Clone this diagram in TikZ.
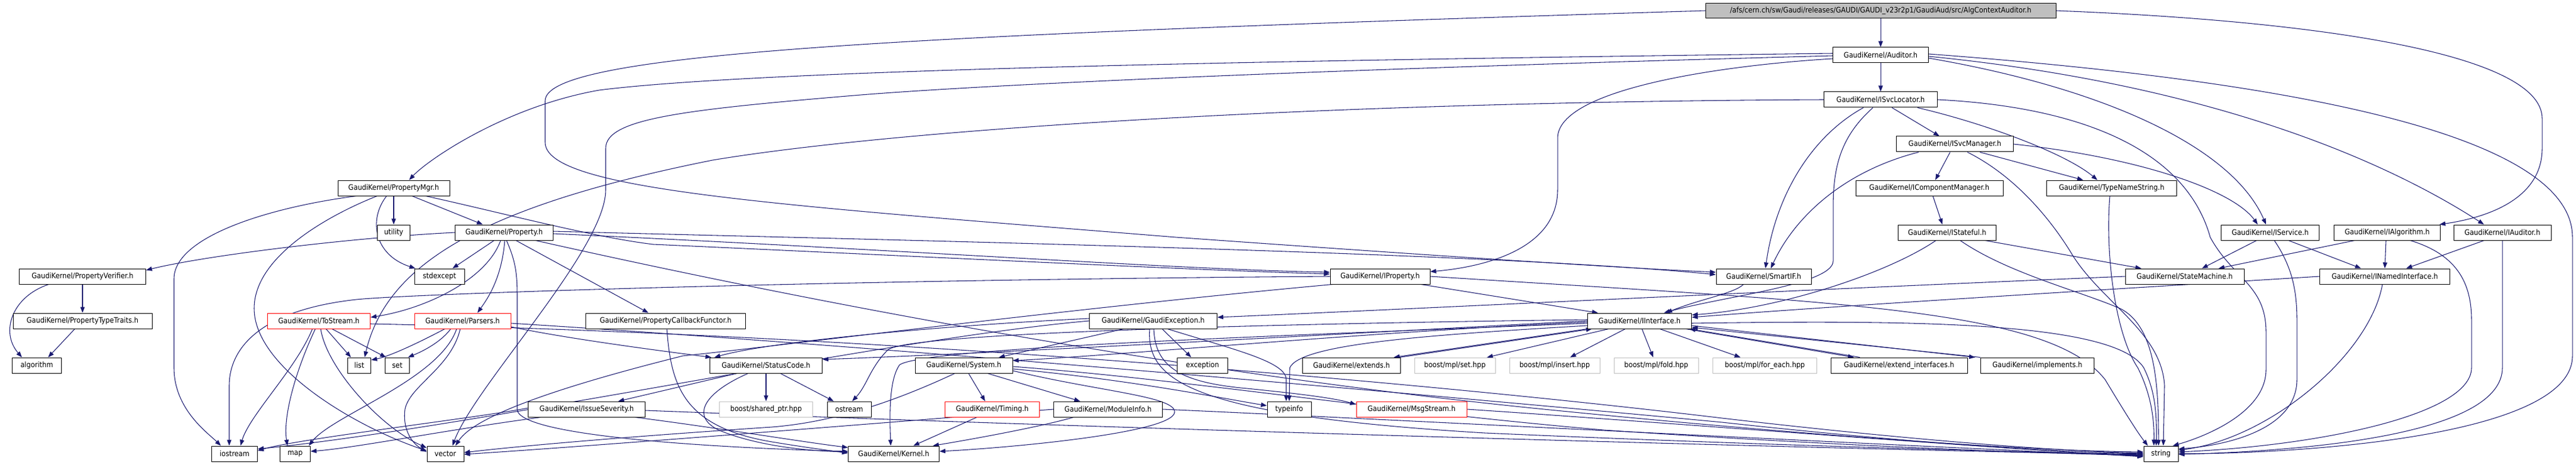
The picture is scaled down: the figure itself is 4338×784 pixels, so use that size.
\documentclass[tikz,border=0pt]{standalone}
\usepackage{fontspec}
\setmainfont{DejaVu Sans Condensed}
\usetikzlibrary{arrows.meta,calc}
\definecolor{edgec}{HTML}{191970}
\definecolor{grayb}{HTML}{BFBFBF}
\pgfdeclarelayer{edges}
\pgfsetlayers{edges,main}
\tikzset{
  box/.style={draw=black, fill=white, line width=0.75pt, inner sep=0pt, minimum height=19.5pt, font=\fontsize{9.5pt}{11pt}\selectfont},
  trunc/.style={box, draw=red},
  extb/.style={box, draw=grayb},
  bw/.style={minimum width=#1*0.75pt},
  dep/.style={draw=edgec, line width=0.8pt, -{Triangle[length=7.5pt,width=5.5pt]}}
}
\begin{document}
\begin{tikzpicture}[x=0.75pt,y=-0.75pt]
\useasboundingbox (0,0) rectangle (4338,784);
% rank 0-3
\node[box,bw=590,fill=grayb,minimum height=18.75pt] (top) at (3167,18) {/afs/cern.ch/sw/Gaudi/releases/GAUDI/GAUDI\_v23r2p1/GaudiAud/src/AlgContextAuditor.h};
\node[box,bw=161] (aud) at (3167,93) {GaudiKernel/Auditor.h};
\node[box,bw=191] (isl) at (3167,168) {GaudiKernel/ISvcLocator.h};
\node[box,bw=197] (ism) at (3292,243) {GaudiKernel/ISvcManager.h};
% rank 4
\node[box,bw=188] (pmgr) at (663,317) {GaudiKernel/PropertyMgr.h};
\node[box,bw=248] (icm) at (3249,317) {GaudiKernel/IComponentManager.h};
\node[box,bw=219] (tns) at (3556,317) {GaudiKernel/TypeNameString.h};
% rank 5
\node[box,bw=55] (util) at (663,392) {utility};
\node[box,bw=165] (prop) at (849,392) {GaudiKernel/Property.h};
\node[box,bw=165] (ist) at (3279,392) {GaudiKernel/IStateful.h};
\node[box,bw=165] (isvc) at (3823,392) {GaudiKernel/IService.h};
\node[box,bw=179] (ialg) at (4020,392) {GaudiKernel/IAlgorithm.h};
\node[box,bw=164] (iaud) at (4214,392) {GaudiKernel/IAuditor.h};
% rank 6
\node[box,bw=213] (pver) at (139,466) {GaudiKernel/PropertyVerifier.h};
\node[box,bw=84] (stdx) at (740,466) {stdexcept};
\node[box,bw=168] (iprop) at (2324,466) {GaudiKernel/IProperty.h};
\node[box,bw=160] (sif) at (2970,466) {GaudiKernel/SmartIF.h};
\node[box,bw=200] (stm) at (3679,466) {GaudiKernel/StateMachine.h};
\node[box,bw=219] (ini) at (4016,466) {GaudiKernel/INamedInterface.h};
% rank 7
\node[box,bw=234] (ptt) at (139,541) {GaudiKernel/PropertyTypeTraits.h};
\node[trunc,bw=173] (tos) at (537,541) {GaudiKernel/ToStream.h};
\node[trunc,bw=162] (pars) at (779,541) {GaudiKernel/Parsers.h};
\node[box,bw=269] (pcf) at (1121,541) {GaudiKernel/PropertyCallbackFunctor.h};
\node[box,bw=215] (gex) at (1942,541) {GaudiKernel/GaudiException.h};
\node[box,bw=175] (iif) at (2761,541) {GaudiKernel/IInterface.h};
% rank 8
\node[box,bw=83] (algo) at (62,616) {algorithm};
\node[box,bw=39] (list) at (605,616) {list};
\node[box,bw=41] (set) at (669,616) {set};
\node[box,bw=189] (sc) at (1290,616) {GaudiKernel/StatusCode.h};
\node[box,bw=164] (sys) at (1623,616) {GaudiKernel/System.h};
\node[box,bw=85] (exc) at (2025,616) {exception};
\node[box,bw=165] (ext) at (2276,616) {GaudiKernel/extends.h};
\node[extb,bw=136] (mset) at (2450,616) {boost/mpl/set.hpp};
\node[extb,bw=152] (mins) at (2618,616) {boost/mpl/insert.hpp};
\node[extb,bw=142] (mfold) at (2789,616) {boost/mpl/fold.hpp};
\node[extb,bw=175] (mfe) at (2972,616) {boost/mpl/for\_each.hpp};
\node[box,bw=230] (exti) at (3198,616) {GaudiKernel/extend\_interfaces.h};
\node[box,bw=191] (impl) at (3431,616) {GaudiKernel/implements.h};
% rank 9
\node[box,bw=197] (isev) at (988,690) {GaudiKernel/IssueSeverity.h};
\node[extb,bw=157] (bsp) at (1290,690) {boost/shared\_ptr.hpp};
\node[box,bw=74] (ostr) at (1430,690) {ostream};
\node[trunc,bw=159] (tim) at (1671,690) {GaudiKernel/Timing.h};
\node[box,bw=183] (mod) at (1866,690) {GaudiKernel/ModuleInfo.h};
\node[box,bw=74] (tinf) at (2171,690) {typeinfo};
\node[trunc,bw=186] (msg) at (2377,690) {GaudiKernel/MsgStream.h};
% rank 10
\node[box,bw=77] (iost) at (395,765) {iostream};
\node[box,bw=51] (map) at (497,765) {map};
\node[box,bw=62] (vec) at (750,765) {vector};
\node[box,bw=153] (ker) at (1505,765) {GaudiKernel/Kernel.h};
\node[box,bw=58] (str) at (3639,765) {string};

\begin{pgfonlayer}{edges}
% top
\draw[dep] (top.south) -- (aud.north);
\draw[dep] (top.west) .. controls (1500,60) and (918,90) .. (918,170) -- (918,240) .. controls (918,320) and (1300,345) .. (1980,400) .. controls (2400,430) and (2700,450) .. ($(sif.west)+(0,-7)$);
\draw[dep] (top.east) .. controls (3900,35) and (4281,90) .. (4281,200) -- (4281,250) .. controls (4281,330) and (4200,365) .. ($(ialg.north east)+(-2,0)$);
% Auditor
\draw[dep] (aud.south) -- (isl.north);
\draw[dep] ($(aud.west)+(0,-3)$) .. controls (2300,100) and (1300,115) .. (1009,152) .. controls (850,180) and (720,270) .. ($(pmgr.north)+(26,0)$);
\draw[dep] ($(aud.west)+(0,1)$) .. controls (2300,115) and (1700,140) .. (1450,160) .. controls (1150,185) and (1020,200) .. (1020,250) -- (1020,320) .. controls (1020,420) and (800,650) .. ($(vec.north)+(12,0)$);
\draw[dep] ($(aud.west)+(0,6)$) .. controls (2900,110) and (2623,150) .. (2623,233) -- (2623,320) .. controls (2623,420) and (2500,450) .. ($(iprop.east)+(0,-8)$);
\draw[dep] ($(aud.east)+(0,-2)$) .. controls (3700,125) and (4332,200) .. (4332,400) -- (4332,600) .. controls (4332,740) and (3850,765) .. (str.east);
\draw[dep] ($(aud.east)+(0,2)$) .. controls (3700,140) and (4000,260) .. ($(iaud.north)+(-31,0)$);
\draw[dep] ($(aud.east)+(0,5)$) .. controls (3550,150) and (3760,250) .. ($(isvc.north)+(-7,0)$);
% ISvcLocator
\draw[dep] (isl.west) .. controls (2200,172) and (1500,220) .. (1200,270) .. controls (800,350) and (650,450) .. ($(list.north)+(9,0)$);
\draw[dep] ($(isl.south)+(-29,0)$) .. controls (3050,230) and (2990,330) .. ($(sif.north)+(3,0)$);
\draw[dep] ($(isl.south)+(-13,0)$) .. controls (3100,230) and (3087,280) .. (3087,350) -- (3087,440) .. controls (3087,480) and (2900,500) .. ($(iif.north)+(41,0)$);
\draw[dep] ($(isl.south)+(19,0)$) -- ($(ism.north)+(-26,0)$);
\draw[dep] ($(isl.south)+(62,0)$) .. controls (3350,210) and (3480,260) .. ($(tns.north)+(-24,0)$);
\draw[dep] (isl.east) .. controls (3500,180) and (3680,250) .. (3722,400) .. controls (3760,470) and (3816,480) .. (3816,560) -- (3816,623) .. controls (3816,700) and (3700,740) .. ($(str.north)+(20,0)$);
% ISvcManager
\draw[dep] ($(ism.south)+(-8,0)$) -- ($(icm.north)+(10,0)$);
\draw[dep] ($(ism.south)+(-61,0)$) .. controls (3100,290) and (3020,370) .. ($(sif.north)+(12,0)$);
\draw[dep] ($(ism.south)+(42,0)$) -- ($(tns.north)+(-48,0)$);
\draw[dep] (ism.east) .. controls (3600,265) and (3760,320) .. ($(isvc.north)+(-21,0)$);
\draw[dep] ($(ism.south)+(21,0)$) .. controls (3400,300) and (3460,380) .. (3490,430) .. controls (3540,510) and (3640,560) .. (3645,650) -- ($(str.north)+(4,0)$);
% IComponentManager
\draw[dep] ($(icm.south)+(6,0)$) -- ($(ist.north)+(-8,0)$);
% IStateful
\draw[dep] ($(ist.south)+(-19,0)$) .. controls (3180,460) and (3000,520) .. ($(iif.east)+(0,-10)$);
\draw[dep] ($(ist.south)+(64,0)$) -- ($(stm.north)+(-73,0)$);
\draw[dep] ($(ist.south)+(22,0)$) .. controls (3380,460) and (3500,490) .. (3570,520) .. controls (3630,550) and (3635,650) .. ($(str.north)+(-4,0)$);
% TypeNameString
\draw[dep] ($(tns.south)+(-3,0)$) .. controls (3545,420) and (3560,560) .. (3600,620) .. controls (3620,660) and (3628,700) .. ($(str.north)+(-12,0)$);
% IService
\draw[dep] ($(isvc.south)+(-23,0)$) -- ($(stm.north)+(29,0)$);
\draw[dep] ($(isvc.south)+(31,0)$) -- ($(ini.north)+(-40,0)$);
\draw[dep] ($(isvc.south)+(7,0)$) .. controls (3860,450) and (3868,490) .. (3868,540) -- (3868,640) .. controls (3868,720) and (3760,750) .. ($(str.east)+(0,-8)$);
% IAlgorithm
\draw[dep] ($(ialg.south)+(-55,0)$) -- ($(stm.north)+(57,0)$);
\draw[dep] ($(ialg.south)+(-2,0)$) -- (ini.north);
\draw[dep] ($(ialg.south)+(39,0)$) .. controls (4140,430) and (4162,480) .. (4162,540) -- (4162,620) .. controls (4162,700) and (3900,752) .. ($(str.east)+(0,-3)$);
% IAuditor
\draw[dep] ($(iaud.south)+(-31,0)$) -- ($(ini.north)+(36,0)$);
\draw[dep] (iaud.south) -- (4214,620) .. controls (4214,730) and (3900,760) .. ($(str.east)+(0,1)$);
% INamedInterface
\draw[dep] (ini.west) .. controls (3600,485) and (3100,515) .. ($(iif.east)+(0,-6)$);
\draw[dep] ($(ini.south)+(-4,0)$) .. controls (3990,600) and (3820,740) .. ($(str.east)+(0,-6)$);
% StateMachine
\draw[dep] (stm.west) .. controls (3000,490) and (2400,520) .. ($(gex.east)+(0,-6)$);
% SmartIF
\draw[dep] ($(sif.south)+(-34,0)$) .. controls (2920,495) and (2860,505) .. ($(iif.north)+(45,0)$);
% IProperty
\draw[dep] ($(iprop.south)+(69,0)$) -- ($(iif.north)+(-70,0)$);
\draw[dep] (iprop.east) .. controls (3100,510) and (3450,520) .. (3545,640) .. controls (3575,690) and (3600,730) .. ($(str.north)+(-22,0)$);
\draw[dep] (iprop.west) .. controls (1400,472) and (700,495) .. (600,505) .. controls (420,525) and (386,600) .. (386,650) -- ($(iost.north)+(-9,0)$);
\draw[dep] ($(iprop.south)+(-80,0)$) .. controls (1800,520) and (1300,585) .. (1150,600) .. controls (950,650) and (800,700) .. ($(vec.north)+(17,0)$);
% PropertyMgr
\draw[dep] ($(pmgr.south)+(-63,0)$) .. controls (450,350) and (293,400) .. (293,470) -- (293,620) .. controls (293,690) and (350,730) .. ($(iost.north)+(-23,0)$);
\draw[dep] ($(pmgr.south)+(-28,0)$) .. controls (560,360) and (428,430) .. (428,520) .. controls (428,620) and (600,720) .. ($(vec.west)+(0,-5)$);
\draw[dep] ($(pmgr.south)+(-12,0)$) .. controls (620,370) and (630,430) .. ($(stdx.north west)+(2,0)$);
\draw[dep] (pmgr.south) -- (util.north);
\draw[dep] ($(pmgr.south)+(31,0)$) -- ($(prop.north)+(-36,0)$);
\draw[dep] ($(pmgr.south)+(54,0)$) .. controls (850,360) and (1000,400) .. (1100,412) .. controls (1500,430) and (2000,455) .. ($(iprop.west)+(0,-4)$);
% Property
\draw[dep] (prop.west) .. controls (600,400) and (350,430) .. ($(pver.north east)+(0,3)$);
\draw[dep] ($(prop.south)+(-17,0)$) -- ($(stdx.north)+(22,0)$);
\draw[dep] ($(prop.south)+(-6,0)$) .. controls (820,470) and (720,520) .. ($(tos.east)+(0,-6)$);
\draw[dep] ($(prop.south)+(1,0)$) .. controls (845,470) and (820,505) .. ($(pars.north)+(25,0)$);
\draw[dep] ($(prop.south)+(4,0)$) .. controls (868,440) and (871,460) .. (871,500) -- (871,690) .. controls (871,735) and (1200,755) .. ($(ker.west)+(0,-4)$);
\draw[dep] ($(prop.south)+(20,0)$) -- ($(pcf.north)+(-29,0)$);
\draw[dep] ($(prop.south)+(53,0)$) .. controls (1500,540) and (2100,640) .. (2600,690) .. controls (3000,730) and (3400,760) .. ($(str.west)+(0,-3)$);
\draw[dep] ($(prop.east)+(0,-2)$) .. controls (1500,405) and (2500,425) .. ($(sif.west)+(0,-3)$);
\draw[dep] ($(prop.east)+(0,2)$) .. controls (1500,420) and (2000,455) .. ($(iprop.west)+(0,-7)$);
% PropertyVerifier / TypeTraits
\draw[dep] (pver.south) -- (ptt.north);
\draw[dep] ($(pver.south)+(-57,0)$) .. controls (20,500) and (0,560) .. ($(algo.north)+(-25,0)$);
\draw[dep] ($(ptt.south)+(-13,0)$) -- ($(algo.north)+(19,0)$);
% ToStream
\draw[dep] ($(tos.south)+(-11,0)$) .. controls (500,620) and (420,700) .. ($(iost.north)+(10,0)$);
\draw[dep] ($(tos.south)+(-6,0)$) .. controls (500,620) and (476,700) .. ($(map.north)+(-13,0)$);
\draw[dep] ($(tos.south)+(3,0)$) .. controls (550,620) and (640,720) .. ($(vec.west)+(0,-10)$);
\draw[dep] ($(tos.south)+(12,0)$) -- ($(list.north)+(-14,0)$);
\draw[dep] ($(tos.south)+(22,0)$) -- ($(set.north west)+(2,0)$);
\draw[dep] ($(tos.east)+(0,5)$) .. controls (1500,565) and (2400,645) .. (2900,705) .. controls (3200,740) and (3450,760) .. ($(str.west)+(0,-1)$);
% Parsers
\draw[dep] ($(pars.south)+(-30,0)$) .. controls (720,570) and (660,600) .. ($(list.east)+(0,-9)$);
\draw[dep] ($(pars.south)+(-20,0)$) .. controls (740,580) and (705,595) .. ($(set.north east)+(-3,0)$);
\draw[dep] ($(pars.south)+(-10,0)$) .. controls (740,640) and (560,700) .. ($(map.north east)+(-3,0)$);
\draw[dep] ($(pars.south)+(-4,0)$) .. controls (760,620) and (690,650) .. (682,690) .. controls (678,720) and (690,745) .. ($(vec.west)+(0,-3)$);
\draw[dep] ($(pars.east)+(0,10)$) .. controls (950,570) and (1100,590) .. ($(sc.north west)+(3,0)$);
\draw[dep] ($(pars.east)+(0,4)$) .. controls (1500,585) and (2400,665) .. (2900,712) .. controls (3200,745) and (3450,762) .. (str.west);
% PropertyCallbackFunctor
\draw[dep] ($(pcf.south)+(2,0)$) .. controls (1130,650) and (1150,720) .. (1300,745) .. controls (1360,755) and (1400,760) .. ($(ker.west)+(0,-1)$);
% GaudiException
\draw[dep] ($(gex.west)+(0,-4)$) .. controls (1600,548) and (1300,575) .. ($(sc.north west)+(8,0)$);
\draw[dep] (gex.west) .. controls (1500,570) and (800,720) .. ($(iost.east)+(0,-8)$);
\draw[dep] ($(gex.south)+(-50,0)$) -- ($(sys.north)+(59,0)$);
\draw[dep] ($(gex.south)+(15,0)$) -- ($(exc.north)+(-19,0)$);
\draw[dep] ($(gex.south)+(24,0)$) .. controls (2080,590) and (2166,610) .. (2166,640) -- ($(tinf.north)+(-5,0)$);
\draw[dep] ($(gex.south)+(1,0)$) .. controls (1945,620) and (1990,645) .. (2100,655) .. controls (2200,665) and (2250,672) .. ($(msg.west)+(0,-8)$);
\draw[dep] ($(gex.south)+(-6,0)$) .. controls (1930,640) and (2000,700) .. (2500,730) .. controls (3000,752) and (3400,762) .. ($(str.west)+(0,1)$);
% StatusCode
\draw[dep] ($(sc.south)+(-49,0)$) -- ($(isev.north)+(53,0)$);
\draw[dep] (sc.south) -- (bsp.north);
\draw[dep] ($(sc.south)+(24,0)$) -- ($(ostr.north)+(-26,0)$);
\draw[dep] ($(sc.south)+(-30,0)$) .. controls (1190,660) and (1160,700) .. (1210,725) .. controls (1270,750) and (1350,760) .. ($(ker.west)+(0,-3)$);
% IssueSeverity
\draw[dep] ($(isev.west)+(0,-2)$) .. controls (800,705) and (500,740) .. ($(iost.east)+(0,-5)$);
\draw[dep] ($(isev.south)+(-77,0)$) .. controls (750,725) and (600,755) .. ($(map.east)+(0,-4)$);
\draw[dep] ($(isev.east)+(0,2)$) .. controls (1800,720) and (3000,755) .. ($(str.west)+(0,2)$);
\draw[dep] ($(isev.south)+(81,0)$) .. controls (1200,720) and (1350,745) .. ($(ker.north west)+(0,3)$);
% System
\draw[dep] ($(sys.south)+(8,0)$) -- ($(tim.north)+(-12,0)$);
\draw[dep] ($(sys.south)+(40,0)$) -- ($(mod.north)+(-47,0)$);
\draw[dep] ($(sys.south)+(-15,0)$) .. controls (1500,680) and (1400,712) .. (1300,720) .. controls (1000,740) and (850,755) .. ($(vec.east)+(0,-2)$);
\draw[dep] ($(sys.east)+(0,2)$) .. controls (2000,640) and (2300,690) .. (2700,725) .. controls (3100,752) and (3400,763) .. ($(str.west)+(0,3)$);
\draw[dep] ($(sys.east)+(0,6)$) .. controls (1900,640) and (2050,670) .. ($(tinf.west)+(0,-6)$);
\draw[dep] ($(sys.east)+(0,9)$) .. controls (1850,660) and (1980,668) .. (1978,695) .. controls (1975,730) and (1700,755) .. ($(ker.east)+(0,-4)$);
% Timing, ModuleInfo, MsgStream
\draw[dep] ($(tim.south)+(-26,0)$) -- ($(ker.north)+(33,0)$);
\draw[dep] ($(mod.south)+(-58,0)$) .. controls (1750,720) and (1640,740) .. ($(ker.north east)+(-11,0)$);
\draw[dep] (mod.east) .. controls (2300,705) and (3200,752) .. ($(str.west)+(0,4)$);
\draw[dep] (mod.west) .. controls (1500,712) and (1000,752) .. ($(vec.east)+(0,1)$);
\draw[dep] (msg.east) .. controls (2800,712) and (3300,752) .. ($(str.west)+(0,5)$);
% IInterface
\draw[dep] ($(iif.south)+(-88,0)$) -- ($(ext.north east)+(-12,0)$);
\draw[dep] ($(ext.north east)+(-2,0)$) -- ($(iif.south)+(-80,0)$);
\draw[dep] ($(iif.south)+(-52,0)$) -- ($(mset.north)+(54,0)$);
\draw[dep] ($(iif.south)+(-24,0)$) -- ($(mins.north)+(26,0)$);
\draw[dep] ($(iif.south)+(4,0)$) -- ($(mfold.north)+(-5,0)$);
\draw[dep] ($(iif.south)+(34,0)$) -- ($(mfe.north)+(-41,0)$);
\draw[dep] ($(iif.south east)+(-10,0)$) -- ($(exti.north)+(-76,0)$);
\draw[dep] ($(exti.north)+(-66,0)$) -- ($(iif.south east)+(-4,0)$);
\draw[dep] ($(iif.east)+(0,8)$) -- ($(impl.north west)+(-9,0)$);
\draw[dep] (impl.north west) -- ($(iif.east)+(0,11)$);
\draw[dep] ($(iif.west)+(0,8)$) .. controls (2400,565) and (2190,580) .. (2172,620) -- (tinf.north);
\draw[dep] ($(iif.east)+(0,4)$) .. controls (3200,540) and (3560,540) .. (3610,620) .. controls (3630,660) and (3632,700) .. ($(str.north)+(-8,0)$);
\draw[dep] (iif.west) .. controls (2400,555) and (1700,595) .. ($(sc.east)+(0,-10)$);
\draw[dep] ($(iif.west)+(0,2)$) .. controls (2300,560) and (1900,598) .. ($(sys.east)+(0,-8)$);
\draw[dep] ($(iif.west)+(0,-2)$) .. controls (2200,545) and (1530,560) .. (1495,590) .. controls (1465,620) and (1460,650) .. ($(ostr.north)+(5,0)$);
\draw[dep] ($(iif.west)+(0,4)$) .. controls (2200,565) and (1560,585) .. (1515,615) .. controls (1497,640) and (1498,700) .. ($(ker.north)+(-5,0)$);
\end{pgfonlayer}
\end{tikzpicture}
\end{document}
